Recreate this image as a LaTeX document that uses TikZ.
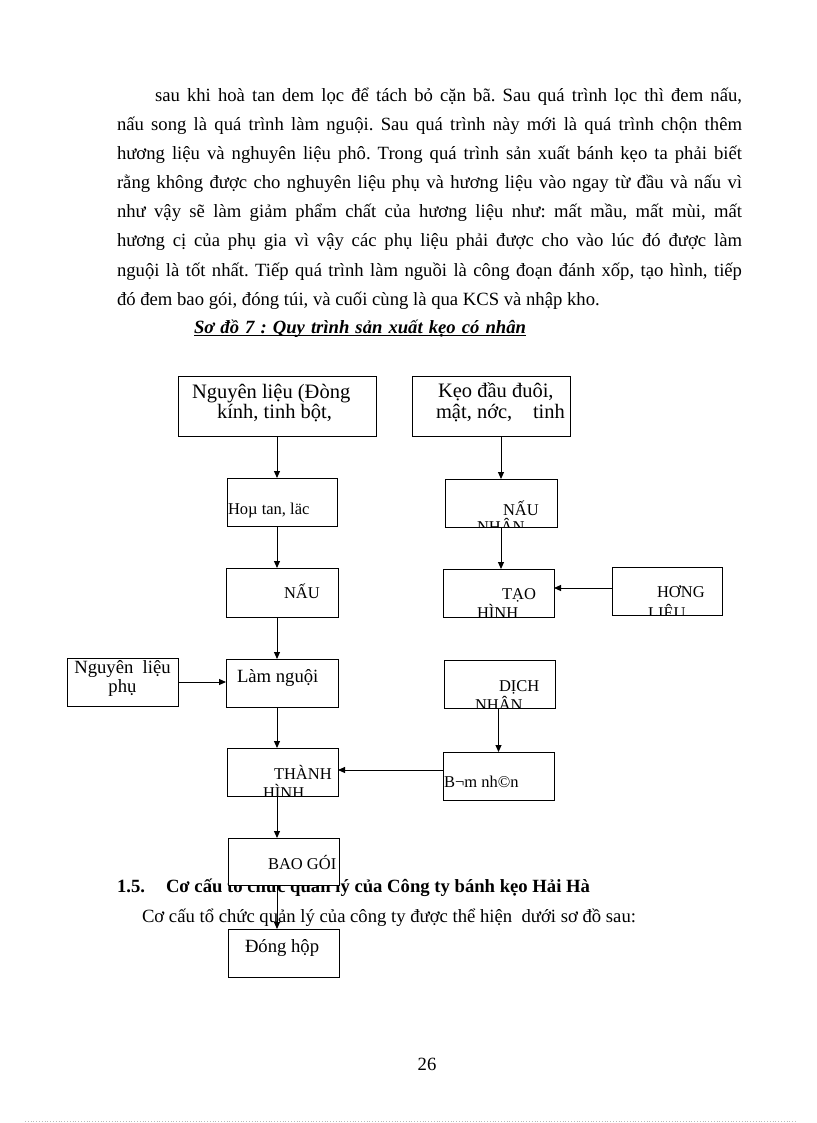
\documentclass[tikz,border=0pt]{standalone}
\usepackage{fontspec}
\setmainfont{Liberation Serif}
\usetikzlibrary{arrows.meta}
\frenchspacing
\newcommand\fbody{\fontsize{18.67}{22}\selectfont}
\newcommand\fcaps{\fontsize{16.5}{19}\selectfont}
\newcommand\fbig{\fontsize{20.5}{23}\selectfont}
\newcommand\inbox[2]{\begin{scope}\clip (#1.south west) rectangle (#1.north east); #2 \end{scope}}
\begin{document}
\begin{tikzpicture}[x=1pt,y=-1pt,
  txt/.style={inner sep=0pt, outer sep=0pt, anchor=base west},
  box/.style={draw, fill=white, line width=1pt, inner sep=0pt, outer sep=0pt},
  arr/.style={line width=1pt, -{Triangle[length=7pt,width=6pt]}}]
\useasboundingbox (0,0) rectangle (816,1123);
\fill[white] (0,0) rectangle (816,1123);
% paragraph
\node[txt] (p1) at (155,102) {\fbody\makebox[587pt][s]{sau khi hoà tan dem lọc để tách bỏ cặn bã. Sau quá trình lọc thì đem nấu,}};
\node[txt] (p2) at (117,131) {\fbody\makebox[625pt][s]{nấu song là quá trình làm nguội. Sau quá trình này mới là quá trình chộn thêm}};
\node[txt] (p3) at (117,160) {\fbody\makebox[625pt][s]{hương liệu và nghuyên liệu phô. Trong quá trình sản xuất bánh kẹo ta phải biết}};
\node[txt] (p4) at (117,189) {\fbody\makebox[625pt][s]{rằng không được cho nghuyên liệu phụ và hương liệu vào ngay từ đầu và nấu vì}};
\node[txt] (p5) at (117,218) {\fbody\makebox[625pt][s]{như vậy sẽ làm giảm phẩm chất của hương liệu như: mất mầu, mất mùi, mất}};
\node[txt] (p6) at (117,247) {\fbody\makebox[625pt][s]{hương cị của phụ gia vì vậy các phụ liệu phải được cho vào lúc đó được làm}};
\node[txt] (p7) at (117,276) {\fbody\makebox[625pt][s]{nguội là tốt nhất. Tiếp quá trình làm nguồi là công đoạn đánh xốp, tạo hình, tiếp}};
\node[txt] (p8) at (117,305) {\fbody đó đem bao gói, đóng túi, và cuối cùng là qua KCS và nhập kho.};
% title
\node[txt] (title) at (194,333) {\fbody\bfseries\itshape\makebox[332pt][s]{Sơ đồ 7 : Quy trình sản xuất kẹo có nhân}};
\draw[line width=1pt] ([yshift=-2.5pt]title.base west) -- ([yshift=-2.5pt]title.base east);
% heading and paragraph below
\node[txt] (h1) at (117,892) {\fbody\bfseries 1.5.};
\node[txt] (h2) at (166,892) {\fbody\bfseries Cơ cấu tổ chức quản lý của Công ty bánh kẹo Hải Hà};
\node[txt] (p9) at (142,922) {\fbody Cơ cấu tổ chức quản lý của công ty được thể hiện \ dưới sơ đồ sau:};
% page number and bottom rule
\node[inner sep=0pt, anchor=base] (pg) at (427,1070) {\fbody 26};
\coordinate (dl) at (25,1121);
\coordinate (dr) at (796,1121);
\draw[gray!55, dotted, line width=0.8pt] (dl) -- (dr);
% boxes
\node[box, minimum width=198pt, minimum height=60pt] (A) at (277,406) {};
\node[box, minimum width=158pt, minimum height=60pt] (B) at (491,406) {};
\node[box, minimum width=110pt, minimum height=48pt] (C) at (282,502) {};
\node[box, minimum width=112pt, minimum height=48pt] (D) at (501,503) {};
\node[box, minimum width=112pt, minimum height=49pt] (E) at (282,592.5) {};
\node[box, minimum width=111pt, minimum height=48pt] (F) at (498.5,593) {};
\node[box, minimum width=110pt, minimum height=48pt] (G) at (667,591) {};
\node[box, minimum width=112pt, minimum height=48pt] (H) at (282,683) {};
\node[box, minimum width=111pt, minimum height=48pt] (I) at (499.5,684) {};
\node[box, minimum width=111pt, minimum height=48pt] (J) at (122.5,682) {};
\node[box, minimum width=111pt, minimum height=48pt] (K) at (282.5,772) {};
\node[box, minimum width=111pt, minimum height=48pt] (L) at (498.5,776) {};
\node[box, minimum width=111pt, minimum height=47pt] (M) at (283.5,861.5) {};
\node[box, minimum width=111pt, minimum height=48pt] (N) at (283.5,953) {};
% box texts
\node[txt] (a1) at (192,398) {\fbig Nguyên liệu (Đòng};
\node[txt] (a2) at (217,418) {\fbig kính, tinh bột,};
\inbox{B}{\node[txt] (b1) at (438,397) {\fbig Kẹo đầu đuôi,};
  \node[txt] (b2) at (436,418) {\fbig mật, nớc,};
  \node[txt] (b3) at (533,418) {\fbig tinh};}
\node[txt] (c1) at (228,514) {\fcaps Hoµ tan, läc};
\inbox{D}{\node[txt] (d1) at (503,515) {\fcaps NẤU};
  \node[txt] (d2) at (477,532) {\fcaps NHÂN};}
\node[txt] (e1) at (284,598) {\fcaps NẤU};
\inbox{F}{\node[txt] (f1) at (502,599) {\fcaps TẠO};
  \node[txt] (f2) at (477,618) {\fcaps HÌNH};}
\inbox{G}{\node[txt] (g1) at (657,597) {\fcaps HƠNG};
  \node[txt] (g2) at (648,618) {\fcaps LIỆU};}
\node[txt] (hh1) at (237,682) {\fbody Làm nguội};
\inbox{I}{\node[txt] (i1) at (499,691) {\fcaps DỊCH};
  \node[txt] (i2) at (475,710) {\fcaps NHÂN};}
\node[inner sep=0pt, anchor=base] (j1) at (122.5,673) {\fbody Nguyên \ liệu};
\node[inner sep=0pt, anchor=base] (j2) at (122.5,692) {\fbody phụ};
\inbox{K}{\node[txt] (k1) at (274,779) {\fcaps THÀNH};
  \node[txt] (k2) at (263,798) {\fcaps HÌNH};}
\node[txt] (l1) at (444,787) {\fcaps B¬m nh©n};
\inbox{M}{\node[txt] (m1) at (268,869) {\fcaps BAO GÓI};}
\node[txt] (n1) at (245,952) {\fbody Đóng hộp};
% connectors
\coordinate (col) at (277,0);
\draw[arr] (A.south) -- (A.south |- C.north);
\draw[arr] (D.north |- B.south) -- (D.north);
\draw[arr] (C.south -| col) -- (E.north -| col);
\draw[arr] (D.south) -- (D.south |- F.north);
\draw[arr] ([yshift=3pt]G.west) -- ([yshift=3pt]G.west -| F.east);
\draw[arr] (E.south -| col) -- (H.north -| col);
\draw[arr] (J.east) -- (J.east -| H.west);
\draw[arr] (H.south -| col) -- (K.north -| col);
\draw[arr] (I.south -| L.north) -- (L.north);
\draw[arr] ([yshift=6pt]L.west) -- ([yshift=6pt]L.west -| K.east);
\draw[arr] (K.south -| col) -- (M.north -| col);
\draw[arr] (M.south -| col) -- (N.north -| col);
\end{tikzpicture}
\end{document}
